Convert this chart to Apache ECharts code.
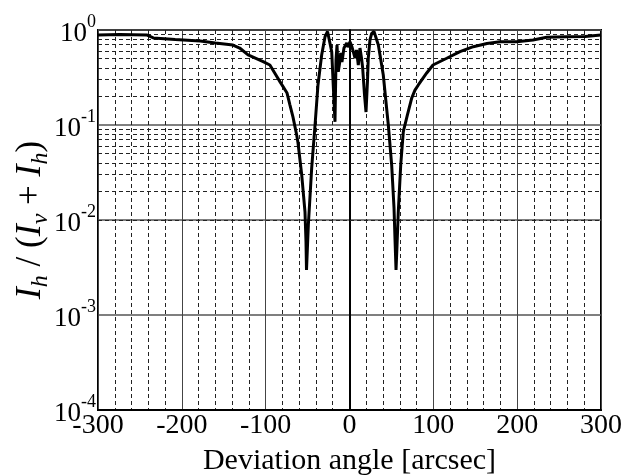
<!DOCTYPE html>
<html>
<head>
<meta charset="utf-8">
<script src="https://cdn.jsdelivr.net/npm/echarts@6/dist/echarts.min.js"></script>
<style>html,body{margin:0;padding:0;background:#fff}#c{width:624px;height:476px}</style>
</head>
<body>
<div id="c"></div>
<script>
// Deviation angle [arcsec]
const angles = [-300,-274,-242,-234,-208,-178,-160,-139,-131,-121,-103,-95,-86.5,-83,-74.5,-71,-67.4,-63,-61.4,-57,-53.1,-51.9,-51.3,-49.1,-45.1,-41.1,-37.6,-33.2,-29.2,-26.2,-21.2,-19.1,-17.3,-16.1,-14.9,-13.4,-11.3,-10.5,-9,-6.6,-3.3,-1.8,0.6,3,4.5,6.6,8.4,10.5,12.5,14.3,15.7,17.9,19.7,21.5,22.4,24.4,26.5,29.2,34.4,36.4,40.3,42.3,45.1,46.3,50.3,53.1,54.3,55.5,56.7,58.2,61.1,64.2,69,74.2,78.1,82.1,92.1,99.6,116,131.8,147.7,164,179.5,199.4,218.9,235.2,259.1,281,300];
// I_h / (I_v + I_h)
const ratios = [0.886,0.895,0.886,0.824,0.794,0.766,0.73,0.695,0.646,0.546,0.464,0.428,0.322,0.286,0.217,0.162,0.121,0.0785,0.0647,0.0298,0.0122,0.0059,0.00298,0.00886,0.0353,0.1,0.264,0.546,0.85,0.964,0.591,0.233,0.108,0.48,0.695,0.364,0.48,0.573,0.46,0.646,0.73,0.66,0.753,0.66,0.646,0.507,0.616,0.428,0.646,0.507,0.398,0.207,0.137,0.298,0.507,0.785,0.923,0.964,0.695,0.546,0.336,0.224,0.127,0.1,0.038,0.0134,0.0062,0.00298,0.00546,0.0122,0.038,0.085,0.127,0.192,0.233,0.264,0.353,0.428,0.504,0.591,0.667,0.72,0.753,0.753,0.785,0.838,0.85,0.854,0.886];
const xTicks = [-300,-200,-100,0,100,200,300];
const yDecades = [-4,-3,-2,-1,0];
const minorMultipliers = [2,3,4,5,6,7,8,9];

const minorY = [];
for (let i = 0; i < yDecades.length - 1; i++) {
  for (const m of minorMultipliers) minorY.push({yAxis: m * Math.pow(10, yDecades[i])});
}
const FONT = 'Liberation Serif';
const chart = echarts.init(document.getElementById('c'), null, {renderer: 'canvas'});
chart.setOption({
  animation: false,
  backgroundColor: '#fff',
  grid: {left: 98, right: 23, top: 30, bottom: 66, containLabel: false, outerBoundsMode: 'none',
         show: true, borderColor: '#000', borderWidth: 2, backgroundColor: 'transparent'},
  xAxis: {
    type: 'value', min: xTicks[0], max: xTicks[xTicks.length-1], interval: 100,
    name: 'Deviation angle [arcsec]', nameLocation: 'middle', nameGap: 36, nameMoveOverlap: false,
    nameTextStyle: {fontFamily: FONT, fontSize: 30, color: '#000'},
    axisLine: {show: true, lineStyle: {color: '#000', width: 2}},
    axisTick: {show: false},
    axisLabel: {fontFamily: FONT, fontSize: 28, color: '#000', margin: 2},
    splitLine: {show: true, lineStyle: {color: '#444', width: 1}},
    minorTick: {show: false, splitNumber: 5},
    minorSplitLine: {show: true, lineStyle: {color: '#222', width: 1, type: [4, 3]}}
  },
  yAxis: {
    type: 'log', logBase: 10, min: Math.pow(10, yDecades[0]), max: Math.pow(10, yDecades[yDecades.length-1]),
    name: '{i|I}{s|h}{n| / (}{i|I}{s|v}{n| + }{i|I}{s|h}{n|)}',
    nameLocation: 'middle', nameGap: 45, nameMoveOverlap: false,
    nameTextStyle: {
      color: '#000',
      rich: {
        i: {fontFamily: FONT, fontSize: 36, fontStyle: 'italic', lineHeight: 36, verticalAlign: 'top', color: '#000'},
        n: {fontFamily: FONT, fontSize: 35, lineHeight: 36, verticalAlign: 'top', color: '#000'},
        s: {fontFamily: FONT, fontSize: 24, fontStyle: 'italic', lineHeight: 40, verticalAlign: 'bottom', color: '#000'}
      }
    },
    axisLine: {show: true, lineStyle: {color: '#000', width: 2}},
    axisTick: {show: false},
    axisLabel: {
      margin: 2,
      formatter: function (v) { return '{b|10}{s|' + Math.round(Math.log10(v)) + '}'; },
      rich: {
        b: {fontFamily: FONT, fontSize: 27, color: '#000', lineHeight: 34, verticalAlign: 'bottom'},
        s: {fontFamily: FONT, fontSize: 18, color: '#000', lineHeight: 20, verticalAlign: 'top'}
      }
    },
    splitLine: {show: true, lineStyle: {color: '#555', width: 1.5}}
  },
  series: [{
    type: 'line',
    data: angles.map((a, i) => [a, ratios[i]]),
    showSymbol: false,
    lineStyle: {color: '#000', width: 3},
    z: 5,
    markLine: {
      silent: true, symbol: 'none', label: {show: false},
      lineStyle: {color: '#222', width: 1, type: [4, 3]},
      data: minorY, z: 1
    }
  }]
});
</script>
</body>
</html>
